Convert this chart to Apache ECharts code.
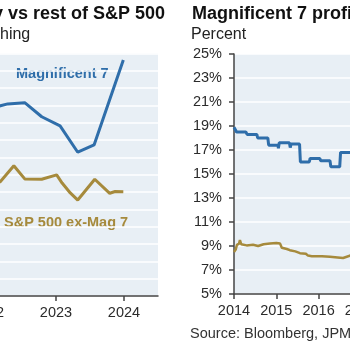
<!DOCTYPE html>
<html>
<head>
<meta charset="utf-8">
<script src="https://cdn.jsdelivr.net/npm/echarts@6/dist/echarts.min.js"></script>
<style>
  html, body { margin: 0; padding: 0; background: #fff; }
  #chart { width: 350px; height: 350px; }
</style>
</head>
<body>
<div id="chart"></div>
<script>
// left panel (index units, axis hidden in the crop)
const leftYears = [2022, 2023, 2024]
const mag7Left = [
  [2022.00, 10.80], [2022.29, 11.09], [2022.54, 11.16], [2022.79, 10.35],
  [2023.06, 9.82], [2023.32, 8.30], [2023.56, 8.72], [2023.99, 13.63]
]
const exMagLeft = [
  [2022.00, 6.24], [2022.18, 6.60], [2022.38, 7.52], [2022.54, 6.76],
  [2022.79, 6.74], [2023.01, 6.99], [2023.09, 6.52], [2023.21, 5.95],
  [2023.32, 5.54], [2023.57, 6.74], [2023.79, 5.93], [2023.87, 6.03],
  [2023.99, 6.02]
]

// right panel, percent
const rightTicks = [5, 7, 9, 11, 13, 15, 17, 19, 21, 23, 25]
const mag7Margin = [
  [2014.00, 18.9], [2014.06, 18.5], [2014.28, 18.5], [2014.29, 18.65],
  [2014.31, 18.3], [2014.54, 18.3], [2014.56, 18.0], [2014.80, 18.0],
  [2014.82, 17.4], [2015.04, 17.4], [2015.05, 17.15], [2015.07, 17.6],
  [2015.31, 17.6], [2015.33, 17.2], [2015.35, 17.5], [2015.55, 17.5],
  [2015.57, 16.0], [2015.78, 16.0], [2015.80, 16.3], [2016.03, 16.3],
  [2016.05, 16.1], [2016.27, 16.1], [2016.29, 15.6], [2016.50, 15.6],
  [2016.52, 16.8], [2016.90, 16.8]
]
const exMagMargin = [
  [2014.00, 8.5], [2014.04, 8.7], [2014.07, 9.1], [2014.12, 9.2],
  [2014.14, 9.5], [2014.17, 9.15], [2014.30, 9.05], [2014.45, 9.1],
  [2014.57, 9.0], [2014.70, 9.15], [2014.85, 9.2], [2015.00, 9.25],
  [2015.09, 9.2], [2015.13, 8.85], [2015.25, 8.75], [2015.32, 8.65],
  [2015.45, 8.55], [2015.49, 8.45], [2015.56, 8.4], [2015.70, 8.35],
  [2015.75, 8.2], [2015.84, 8.15], [2016.00, 8.15], [2016.03, 8.3],
  [2016.08, 8.15], [2016.27, 8.1], [2016.45, 8.05], [2016.58, 8.0],
  [2016.74, 8.2], [2016.90, 8.3]
]

const blue = '#2f6eaa'
const gold = '#a68a3c'
const bg = '#e8eff5'
const axisGrey = '#444'
const font = 'Arial, "Liberation Sans", sans-serif'

const chart = echarts.init(document.getElementById('chart'))

const option = {
  animation: false,
  textStyle: { fontFamily: font },
  grid: [
    { left: -12, top: 53.5, width: 170, height: 242.5, show: true, backgroundColor: bg, borderWidth: 0,
      containLabel: false, outerBoundsMode: 'none' },
    { left: 234, top: 54, width: 444, height: 240, show: true, backgroundColor: bg, borderWidth: 0,
      containLabel: false, outerBoundsMode: 'none' }
  ],
  xAxis: [
    {
      type: 'value', gridIndex: 0, min: leftYears[0], max: 2024.5, interval: 1,
      axisLine: { lineStyle: { color: axisGrey, width: 1.5 } },
      axisTick: { length: 5, lineStyle: { color: axisGrey, width: 1.5 } },
      axisLabel: { color: '#2b2b2b', fontSize: 14.5, margin: 9, formatter: v => String(v) },
      splitLine: { show: false }
    },
    {
      type: 'value', gridIndex: 1, min: 2014, max: 2024.5, interval: 1,
      axisLine: { lineStyle: { color: axisGrey, width: 1.5 } },
      axisTick: { length: 5, lineStyle: { color: axisGrey, width: 1.5 } },
      axisLabel: { color: '#2b2b2b', fontSize: 14.5, margin: 9, formatter: v => String(v) },
      splitLine: { show: false }
    }
  ],
  yAxis: [
    {
      type: 'value', gridIndex: 0, min: 0, max: 14, interval: 1,
      axisLine: { show: false }, axisTick: { show: false }, axisLabel: { show: false },
      splitLine: { lineStyle: { color: '#fff', width: 1.5 } }
    },
    {
      type: 'value', gridIndex: 1, min: rightTicks[0], max: rightTicks[rightTicks.length - 1], interval: 2,
      axisLine: { show: true, lineStyle: { color: axisGrey, width: 1.5 } },
      axisTick: { show: true, length: 5, lineStyle: { color: axisGrey, width: 1.5 } },
      axisLabel: { color: '#2b2b2b', fontSize: 14.5, margin: 12, formatter: v => v + '%' },
      splitLine: { lineStyle: { color: '#fff', width: 1.5 } }
    }
  ],
  series: [
    { type: 'line', xAxisIndex: 0, yAxisIndex: 0, data: mag7Left, showSymbol: false,
      lineStyle: { color: blue, width: 3 } },
    { type: 'line', xAxisIndex: 0, yAxisIndex: 0, data: exMagLeft, showSymbol: false,
      lineStyle: { color: gold, width: 3 } },
    { type: 'line', xAxisIndex: 1, yAxisIndex: 1, data: mag7Margin, showSymbol: false,
      lineStyle: { color: blue, width: 3 } },
    { type: 'line', xAxisIndex: 1, yAxisIndex: 1, data: exMagMargin, showSymbol: false,
      lineStyle: { color: gold, width: 2.5 } }
  ],
  graphic: [
    { type: 'text', right: 185, top: 5, style: { text: 'y vs rest of S&P 500', fill: '#111', font: 'bold 18px ' + font } },
    { type: 'text', left: 0, top: 27, style: { text: 'hing', fill: '#222', font: '16px ' + font } },
    { type: 'text', left: 192, top: 5, style: { text: 'Magnificent 7 profit margins', fill: '#111', font: 'bold 18px ' + font } },
    { type: 'text', left: 191, top: 27, style: { text: 'Percent', fill: '#222', font: '16px ' + font } },
    { type: 'text', left: 16, top: 66, style: { text: 'Magnificent 7', fill: blue, font: 'bold 14.5px ' + font } },
    { type: 'text', left: 4, top: 215, style: { text: 'S&P 500 ex-Mag 7', fill: gold, font: 'bold 14.5px ' + font } },
    { type: 'text', left: 190, top: 326, style: { text: 'Source: Bloomberg, JPMorgan', fill: '#333', font: '14.5px ' + font } }
  ]
}

chart.setOption(option)
</script>
</body>
</html>
